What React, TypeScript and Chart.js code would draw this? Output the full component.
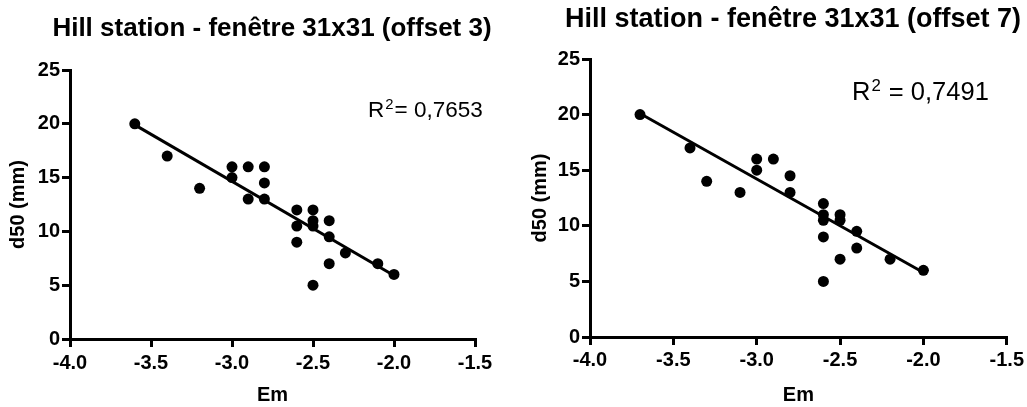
import React, { useEffect, useRef } from "react";
import { Chart, registerables } from "chart.js";
Chart.register(...registerables);

// ---------- data ----------
const leftTitle = "Hill station - fenêtre 31x31 (offset 3)";
const leftEm = [-3.6, -3.4, -3.2, -3.0, -3.0, -2.9, -2.9, -2.8, -2.8, -2.8, -2.6, -2.6, -2.6, -2.5, -2.5, -2.5, -2.5, -2.4, -2.4, -2.4, -2.3, -2.1, -2.0];
const leftD50 = [20, 17, 14, 16, 15, 16, 13, 16, 14.5, 13, 12, 10.5, 9, 12, 11, 10.5, 5, 11, 9.5, 7, 8, 7, 6];
const leftFitEm = [-3.6, -2.0];
const leftFitD50 = [19.9, 5.9];
const leftR2 = "0,7653";

const rightTitle = "Hill station - fenêtre 31x31 (offset 7)";
const rightEm = [-3.7, -3.4, -3.3, -3.1, -3.0, -3.0, -2.9, -2.8, -2.8, -2.6, -2.6, -2.6, -2.6, -2.6, -2.5, -2.5, -2.5, -2.4, -2.4, -2.2, -2.0];
const rightD50 = [20, 17, 14, 13, 16, 15, 16, 14.5, 13, 12, 11, 10.5, 9, 5, 11, 10.5, 7, 9.5, 8, 7, 6];
const rightFitEm = [-3.7, -2.0];
const rightFitD50 = [20.1, 5.8];
const rightR2 = "0,7491";

const xMin = -4.0;
const xMax = -1.5;
const xStep = 0.5;
const yMin = 0;
const yMax = 25;
const yStep = 5;
const xAxisLabel = "Em";
const yAxisLabel = "d50 (mm)";

const FONT = '"Liberation Sans", Arial, Helvetica, sans-serif';
const H = 407;

type Panel = {
  left: number;
  width: number;
  area: { left: number; right: number; top: number; bottom: number };
  title: string;
  titleX: number;
  titleY: number;
  titleSize: number;
  r2: string;
  r2X: number;
  r2Y: number;
  r2Size: number;
  r2Spaced: boolean;
  yTitlePad: number;
  xTickPad: number;
  em: number[];
  d50: number[];
  fitEm: number[];
  fitD50: number[];
};

const panels: Panel[] = [
  {
    left: 0,
    width: 510,
    area: { left: 70, right: 475, top: 70, bottom: 339 },
    title: leftTitle,
    titleX: 272,
    titleY: 36,
    titleSize: 26,
    r2: leftR2,
    r2X: 368,
    r2Y: 117,
    r2Size: 22.5,
    r2Spaced: false,
    yTitlePad: 6,
    xTickPad: 4,
    em: leftEm,
    d50: leftD50,
    fitEm: leftFitEm,
    fitD50: leftFitD50,
  },
  {
    left: 510,
    width: 517,
    area: { left: 80, right: 497, top: 59, bottom: 337 },
    title: rightTitle,
    titleX: 283,
    titleY: 27,
    titleSize: 27,
    r2: rightR2,
    r2X: 342,
    r2Y: 100,
    r2Size: 25.5,
    r2Spaced: true,
    yTitlePad: 18,
    xTickPad: 3,
    em: rightEm,
    d50: rightD50,
    fitEm: rightFitEm,
    fitD50: rightFitD50,
  },
];

function textPlugin(p: Panel) {
  return {
    id: "panelTexts",
    afterDraw(chart: any) {
      const ctx = chart.ctx as CanvasRenderingContext2D;
      ctx.save();
      ctx.fillStyle = "#000";
      ctx.textBaseline = "alphabetic";
      ctx.textAlign = "center";
      ctx.font = `bold ${p.titleSize}px ${FONT}`;
      ctx.fillText(p.title, p.titleX, p.titleY);

      ctx.textAlign = "left";
      let x = p.r2X;
      ctx.font = `${p.r2Size}px ${FONT}`;
      ctx.fillText("R", x, p.r2Y);
      x += ctx.measureText("R").width + 1;
      const supSize = p.r2Size * 0.66;
      ctx.font = `${supSize}px ${FONT}`;
      ctx.fillText("2", x, p.r2Y - p.r2Size * 0.36);
      x += ctx.measureText("2").width + 1;
      ctx.font = `${p.r2Size}px ${FONT}`;
      const rest = (p.r2Spaced ? " = " : "= ") + p.r2;
      ctx.fillText(rest, x, p.r2Y);
      ctx.restore();
    },
  };
}

function PanelChart({ p }: { p: Panel }) {
  const ref = useRef<HTMLCanvasElement | null>(null);
  useEffect(() => {
    if (!ref.current) return;
    const pts = p.em.map((x, i) => ({ x, y: p.d50[i] }));
    const fit = p.fitEm.map((x, i) => ({ x, y: p.fitD50[i] }));
    const gridCommon = {
      display: true,
      drawOnChartArea: false,
      drawTicks: true,
      tickLength: 8,
      tickWidth: 3,
      tickColor: "#000",
      color: "#000",
      lineWidth: 3,
    };
    const chart = new Chart(ref.current, {
      type: "scatter",
      data: {
        datasets: [
          {
            data: fit,
            showLine: true,
            borderColor: "#000",
            borderWidth: 3,
            pointRadius: 0,
            fill: false,
          },
          {
            data: pts,
            pointRadius: 5.5,
            pointBackgroundColor: "#000",
            pointBorderWidth: 0,
            borderColor: "#000",
          },
        ],
      },
      options: {
        animation: false,
        responsive: false,
        devicePixelRatio: 1,
        layout: {
          padding: {
            left: 0,
            top: p.area.top,
            right: p.width - p.area.right,
            bottom: 0,
          },
        },
        plugins: {
          legend: { display: false },
          tooltip: { enabled: false },
          title: { display: false },
        },
        scales: {
          x: {
            type: "linear",
            min: xMin,
            max: xMax,
            afterFit: (s: any) => {
              s.height = H - p.area.bottom;
            },
            ticks: {
              stepSize: xStep,
              autoSkip: false,
              maxRotation: 0,
              minRotation: 0,
              padding: p.xTickPad,
              color: "#000",
              font: { family: FONT, size: 20, weight: "bold" },
              callback: (v: any) => Number(v).toFixed(1),
            },
            grid: gridCommon,
            border: { display: true, color: "#000", width: 3 },
            title: {
              display: true,
              text: xAxisLabel,
              color: "#000",
              font: { family: FONT, size: 20, weight: "bold" },
              padding: { top: 0, bottom: 0 },
            },
          },
          y: {
            type: "linear",
            min: yMin,
            max: yMax,
            afterFit: (s: any) => {
              s.width = p.area.left;
            },
            ticks: {
              stepSize: yStep,
              autoSkip: false,
              padding: 2,
              color: "#000",
              font: { family: FONT, size: 20, weight: "bold" },
            },
            grid: gridCommon,
            border: { display: true, color: "#000", width: 3 },
            title: {
              display: true,
              text: yAxisLabel,
              color: "#000",
              font: { family: FONT, size: 20, weight: "bold" },
              padding: { top: p.yTitlePad, bottom: 0 },
            },
          },
        },
      },
      plugins: [textPlugin(p)],
    } as any);
    return () => chart.destroy();
  }, [p]);
  return (
    <canvas
      ref={ref}
      width={p.width}
      height={H}
      style={{ position: "absolute", left: p.left, top: 0, width: p.width, height: H }}
    />
  );
}

export default function App() {
  return (
    <div
      style={{
        position: "absolute",
        left: 0,
        top: 0,
        width: 1027,
        height: H,
        background: "#fff",
        overflow: "hidden",
      }}
    >
      {panels.map((p, i) => (
        <PanelChart key={i} p={p} />
      ))}
    </div>
  );
}
